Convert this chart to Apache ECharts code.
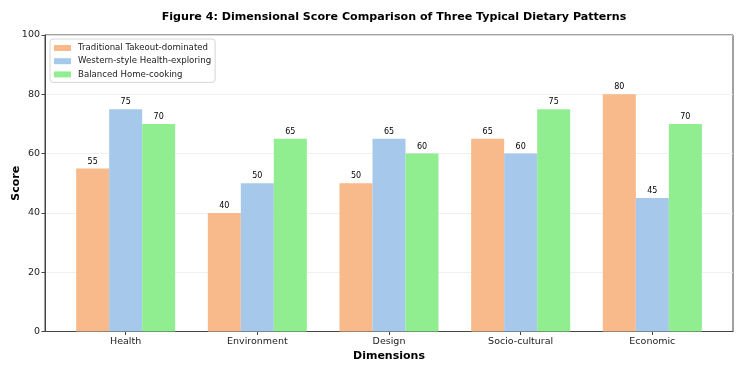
<!DOCTYPE html>
<html>
<head>
<meta charset="utf-8">
<script src="https://cdn.jsdelivr.net/npm/echarts@6/dist/echarts.min.js"></script>
<style>html,body{margin:0;padding:0;background:#fff}#c{width:742px;height:371px}</style>
</head>
<body>
<div id="c"></div>
<script>
const categories = ['Health', 'Environment', 'Design', 'Socio-cultural', 'Economic'];
const seriesNames = ['Traditional Takeout-dominated', 'Western-style Health-exploring', 'Balanced Home-cooking'];
const takeout = [55, 40, 50, 65, 80];
const western = [75, 50, 65, 60, 45];
const balanced = [70, 65, 60, 75, 70];
const yTicks = [0, 20, 40, 60, 80, 100];
const colors = ['#F8B98B', '#A6C8EA', '#90EE90'];
const FONT = 'DejaVu Sans';

const chart = echarts.init(document.getElementById('c'), null, {renderer: 'canvas'});
const pos = categories.map((_, i) => i);
function mk(name, vals, color) {
  return {
    name: name,
    type: 'bar',
    data: vals.map((v, i) => [pos[i], v]),
    barWidth: 33,
    barGap: '0%',
    itemStyle: {color: color},
    label: {show: true, position: 'top', distance: 3, fontSize: 8, color: '#000', fontFamily: FONT},
    emphasis: {disabled: true}
  };
}
chart.setOption({
  animation: false,
  textStyle: {fontFamily: FONT},
  title: {
    text: 'Figure 4: Dimensional Score Comparison of Three Typical Dietary Patterns',
    left: 389, top: 7, textAlign: 'center',
    textStyle: {fontSize: 11.1, fontWeight: 'bold', color: '#000', fontFamily: FONT}
  },
  legend: {
    orient: 'vertical', left: 50, top: 39,
    itemWidth: 17, itemHeight: 6, itemGap: 3.2,
    padding: [4, 4, 3, 4],
    borderColor: '#d6d6d6', borderWidth: 1, borderRadius: 3,
    backgroundColor: 'rgba(255,255,255,0.8)',
    icon: 'rect',
    textStyle: {fontSize: 8.6, lineHeight: 10, color: '#222', fontFamily: FONT, padding: [0, 0, 0, 2]},
    data: seriesNames
  },
  grid: {left: 45, right: 9, top: 35, bottom: 39.5, show: true, borderColor: '#444', borderWidth: 1, containLabel: false, outerBoundsMode: 'none'},
  xAxis: {
    type: 'value', min: -0.6125, max: 4.6125,
    name: 'Dimensions', nameLocation: 'middle', nameGap: 19, nameMoveOverlap: false,
    nameTextStyle: {fontWeight: 'bold', fontSize: 11, color: '#000', fontFamily: FONT},
    axisLine: {show: true, onZero: false, lineStyle: {color: '#444'}},
    axisTick: {show: true, customValues: pos, length: 3.5, lineStyle: {color: '#444'}},
    axisLabel: {customValues: pos, formatter: v => categories[Math.round(v)], fontSize: 9.5, color: '#222', margin: 5, fontFamily: FONT},
    splitLine: {show: false}
  },
  yAxis: {
    type: 'value', min: 0, max: 100, interval: 20,
    name: 'Score', nameLocation: 'middle', nameGap: 23, nameMoveOverlap: false,
    nameTextStyle: {fontWeight: 'bold', fontSize: 11, color: '#000', fontFamily: FONT},
    axisLine: {show: true, onZero: false, lineStyle: {color: '#444'}},
    axisTick: {show: true, length: 3.5, lineStyle: {color: '#444'}},
    axisLabel: {fontSize: 9.5, color: '#222', margin: 5, fontFamily: FONT, customValues: yTicks},
    splitLine: {show: true, lineStyle: {color: '#ebebeb', width: 0.8}}
  },
  series: [mk(seriesNames[0], takeout, colors[0]), mk(seriesNames[1], western, colors[1]), mk(seriesNames[2], balanced, colors[2])]
});
</script>
</body>
</html>
